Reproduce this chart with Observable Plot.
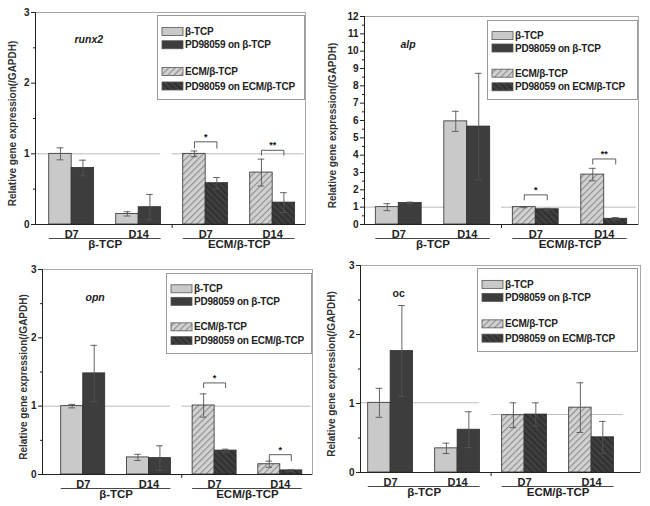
<!DOCTYPE html>
<html>
<head>
<meta charset="utf-8">
<script src="https://cdn.jsdelivr.net/npm/d3@7"></script>
<script src="https://cdn.jsdelivr.net/npm/@observablehq/plot@0.6"></script>
<style>
  body { margin: 0; background: #fff; }
  #fig { position: relative; width: 650px; height: 506px; font-family: "Liberation Sans", Arial, sans-serif; }
  .panel { position: absolute; width: 325px; height: 253px; }
  .panel svg { display: block; }
</style>
</head>
<body>
<svg width="0" height="0" style="position:absolute">
  <defs>
    <pattern id="hatchL" patternUnits="userSpaceOnUse" width="4.5" height="4.5" patternTransform="rotate(45)">
      <rect width="4.5" height="4.5" fill="#d2d2d2"></rect>
      <line x1="0.6" y1="0" x2="0.6" y2="4.5" stroke="#8c8c8c" stroke-width="1.1"></line>
    </pattern>
    <pattern id="hatchD" patternUnits="userSpaceOnUse" width="4.5" height="4.5" patternTransform="rotate(-45)">
      <rect width="4.5" height="4.5" fill="#3f3f3f"></rect>
      <line x1="0.6" y1="0" x2="0.6" y2="4.5" stroke="#262626" stroke-width="1.1"></line>
    </pattern>
  </defs>
</svg>
<div id="fig"></div>
<script>
// ---------- data ----------
const groups = ["β-TCP", "ECM/β-TCP"];
const days = ["D7", "D14", "D7", "D14"];
const series = ["β-TCP", "PD98059 on β-TCP", "ECM/β-TCP", "PD98059 on ECM/β-TCP"];
const yLabel = "Relative gene expression(/GAPDH)";
const genes = ["runx2", "alp", "opn", "oc"];

// order: β D7 ctrl, β D7 PD, β D14 ctrl, β D14 PD, ECM D7 ctrl, ECM D7 PD, ECM D14 ctrl, ECM D14 PD
const runx2Mean = [1.00, 0.80, 0.15, 0.245, 1.00, 0.585, 0.735, 0.31];
const runx2Err  = [0.085, 0.11, 0.03, 0.18, 0.04, 0.08, 0.19, 0.14];
const alpMean   = [1.00, 1.24, 5.95, 5.65, 1.00, 0.88, 2.88, 0.33];
const alpErr    = [0.20, 0.05, 0.58, 3.07, 0.03, 0.05, 0.36, 0.07];
const opnMean   = [1.00, 1.48, 0.25, 0.24, 1.01, 0.35, 0.15, 0.06];
const opnErr    = [0.025, 0.41, 0.045, 0.18, 0.17, 0.02, 0.045, 0.01];
const ocMean    = [1.01, 1.76, 0.35, 0.62, 0.83, 0.84, 0.94, 0.51];
const ocErr     = [0.21, 0.66, 0.075, 0.26, 0.18, 0.17, 0.36, 0.23];

// reference (control) levels per group
const runx2Ref = [1.00, 1.00];
const alpRef   = [1.00, 1.00];
const opnRef   = [1.00, 1.00];
const ocRef    = [1.01, 0.84];

// significance brackets: slot, top level, end level, label
const runx2SigSlot = [2, 3], runx2SigTop = [1.17, 1.05], runx2SigEnd = [1.08, 0.98], runx2SigLabel = ["*", "**"];
const alpSigSlot   = [2, 3], alpSigTop   = [1.71, 3.78], alpSigEnd   = [1.42, 3.49], alpSigLabel   = ["*", "**"];
const opnSigSlot   = [2, 3], opnSigTop   = [1.34, 0.29], opnSigEnd   = [1.27, 0.20], opnSigLabel   = ["*", "*"];
const ocSigSlot = [], ocSigTop = [], ocSigEnd = [], ocSigLabel = [];

const runx2Ticks = [0, 1, 2, 3];
const alpTicks = [0, 1, 2, 3, 4, 5, 6, 7, 8, 9, 10, 11, 12];
const opnTicks = [0, 1, 2, 3];
const ocTicks = [0, 1, 2, 3];

// ---------- styling / layout ----------
const W = 0.335; // bar width in slot units
const seriesFill = ["#c9c9c9", "#3d3d3d", "url(#hatchL)", "url(#hatchD)"];

const panels = [
  {gene: genes[0], mean: runx2Mean, err: runx2Err, ref: runx2Ref, ticks: runx2Ticks,
   sig: [runx2SigSlot, runx2SigTop, runx2SigEnd, runx2SigLabel], italic: true,
   left: 0, top: 0, mt: 12, mb: 29, ml: 35, mr: 20, xd: [-0.04, 3.99], ylx: -23, gdx: 39, gdy: 23,
   lg: {x: 157, y: 15, w: 148, h: 85}},
  {gene: genes[1], mean: alpMean, err: alpErr, ref: alpRef, ticks: alpTicks,
   sig: [alpSigSlot, alpSigTop, alpSigEnd, alpSigLabel], italic: true,
   left: 325, top: 0, mt: 16, mb: 29, ml: 39, mr: 12, xd: [0, 4], ylx: -32, gdx: 36, gdy: 24,
   lg: {x: 162, y: 20, w: 151, h: 80}},
  {gene: genes[2], mean: opnMean, err: opnErr, ref: opnRef, ticks: opnTicks,
   sig: [opnSigSlot, opnSigTop, opnSigEnd, opnSigLabel], italic: true,
   left: 0, top: 253, mt: 16, mb: 32, ml: 42, mr: 13, xd: [-0.12, 3.99], ylx: -19, gdx: 43, gdy: 24,
   lg: {x: 166, y: 20, w: 146, h: 81}},
  {gene: genes[3], mean: ocMean, err: ocErr, ref: ocRef, ticks: ocTicks,
   sig: [ocSigSlot, ocSigTop, ocSigEnd, ocSigLabel], italic: false,
   left: 325, top: 253, mt: 12, mb: 34, ml: 35, mr: 10, xd: [0.05, 4.23], ylx: -29, gdx: 32, gdy: 24,
   lg: {x: 152, y: 15, w: 161, h: 84}}
];

function rowsOf(mean, err) {
  return mean.map((v, i) => {
    const slot = Math.floor(i / 2), treat = i % 2, group = Math.floor(slot / 2);
    const c = slot + 0.5;
    return {
      v, e: err[i], slot, treat, group, series: group * 2 + treat,
      x1: treat ? c : c - W, x2: treat ? c + W : c, xc: treat ? c + W / 2 : c - W / 2
    };
  });
}

function makeLegend(lg) {
  const svg = d3.create("svg")
    .attr("width", lg.w).attr("height", lg.h)
    .style("position", "absolute").style("left", lg.x + "px").style("top", lg.y + "px")
    .style("font-family", "'Liberation Sans', Arial, sans-serif")
    .style("font-size", "10px").style("font-weight", "bold").style("letter-spacing", "-0.2px");
  svg.append("rect").attr("x", 0.5).attr("y", 0.5).attr("width", lg.w - 1).attr("height", lg.h - 1)
    .attr("fill", "#fff").attr("stroke", "#9a9a9a");
  const fr = [0.195, 0.35, 0.665, 0.835];
  series.forEach((s, i) => {
    const cy = lg.h * fr[i];
    svg.append("rect").attr("x", 5).attr("y", cy - 4).attr("width", 21).attr("height", 8)
      .attr("fill", seriesFill[i]).attr("stroke", "#555").attr("stroke-width", 0.8);
    svg.append("text").attr("x", 28).attr("y", cy).attr("dy", "0.36em").attr("fill", "#222").text(s);
  });
  return svg.node();
}

const fig = document.getElementById("fig");

panels.forEach(p => {
  const rows = rowsOf(p.mean, p.err);
  const width = 325, height = 253;
  const yMax = p.ticks[p.ticks.length - 1];
  const minor = p.ticks.slice(0, -1).map(t => t + (p.ticks[1] - p.ticks[0]) / 2);
  const dayTicks = days.map((d, i) => i + 0.5);
  const [sSlot, sTop, sEnd, sLab] = p.sig;
  const sigPts = sSlot.flatMap((s, k) => {
    const c = s + 0.5;
    return [
      {id: k, x: c - W / 2, y: sEnd[k]}, {id: k, x: c - W / 2, y: sTop[k]},
      {id: k, x: c + W / 2, y: sTop[k]}, {id: k, x: c + W / 2, y: sEnd[k]}
    ];
  });
  const sigText = sSlot.map((s, k) => ({x: s + 0.5, y: sTop[k], t: sLab[k]}));
  const refRows = p.ref.map((v, g) => ({v, x1: g === 0 ? p.xd[0] : 2.0, x2: g === 0 ? 1.83 : 3.97}));
  const capRows = rows.flatMap(r => [{x: r.xc, y: r.v + r.e}, {x: r.xc, y: Math.max(0, r.v - r.e)}]);

  const marks = [
    Plot.frame({stroke: "#a8a8a8", strokeWidth: 1}),
    Plot.ruleY(refRows, {y: "v", x1: "x1", x2: "x2", stroke: "#bdbdbd", strokeWidth: 1}),
    ...series.map((s, si) => Plot.rectY(rows.filter(r => r.series === si), {
      x1: "x1", x2: "x2", y1: 0, y2: "v", fill: seriesFill[si], stroke: "#2e2e2e", strokeWidth: 0.8
    })),
    Plot.ruleX(rows, {x: "xc", y1: d => Math.max(0, d.v - d.e), y2: d => d.v + d.e, stroke: "#555", strokeWidth: 0.9}),
    Plot.ruleY(capRows, {y: "y", x1: d => d.x - 0.05, x2: d => d.x + 0.05, stroke: "#555", strokeWidth: 0.9}),
    Plot.line(sigPts, {x: "x", y: "y", z: "id", stroke: "#333", strokeWidth: 0.8}),
    Plot.text(sigText, {x: "x", y: "y", text: "t", dy: -5, fontSize: 9, fill: "#111"}),
    Plot.ruleY([0], {stroke: "#222", strokeWidth: 1}),
    Plot.ruleX([p.xd[0]], {stroke: "#222", strokeWidth: 1}),
    Plot.axisY({ticks: p.ticks, tickSize: 4, tickPadding: 2, label: null, fontSize: 10, fill: "#222",
                tickFormat: d => String(d)}),
    Plot.axisY({ticks: minor, tickSize: 2, tickFormat: () => "", label: null}),
    Plot.axisX({ticks: dayTicks, tickSize: 0, tickPadding: 6, label: null, fontSize: 11, fill: "#222",
                tickFormat: d => days[Math.floor(d)]}),
    Plot.axisX({ticks: [2], tickSize: 4, tickFormat: () => "", label: null}),
    Plot.ruleY(groups, {y: 0, x1: (d, i) => 2 * i + 0.5 - W, x2: (d, i) => 2 * i + 1.5 + W, dy: 14, stroke: "#333", strokeWidth: 0.9}),
    Plot.text(groups, {x: (d, i) => 2 * i + 1, frameAnchor: "bottom", dy: 23, text: d => d, fontSize: 11.5, fill: "#222"}),
    Plot.text([p.gene], {frameAnchor: "top-left", dx: p.gdx, dy: p.gdy, text: d => d, fontSize: 10.5,
                         fontStyle: p.italic ? "italic" : "normal", fill: "#222"}),
    Plot.text([yLabel], {frameAnchor: "left", dx: p.ylx, dy: 5, rotate: -90, text: d => d, fontSize: 10,
                         textAnchor: "middle", lineAnchor: "middle", fontWeight: "bold", fill: "#333"})
  ];

  const chart = Plot.plot({
    width, height,
    marginTop: p.mt, marginBottom: p.mb, marginLeft: p.ml, marginRight: p.mr,
    x: {type: "linear", domain: p.xd},
    y: {domain: [0, yMax]},
    style: {fontFamily: "'Liberation Sans', Arial, sans-serif", fontSize: "10px", fontWeight: "bold",
            background: "transparent", color: "#222"},
    marks
  });

  const div = document.createElement("div");
  div.className = "panel";
  div.style.left = p.left + "px";
  div.style.top = p.top + "px";
  div.appendChild(chart);
  div.appendChild(makeLegend(p.lg));
  fig.appendChild(div);
});
</script>
</body>
</html>
